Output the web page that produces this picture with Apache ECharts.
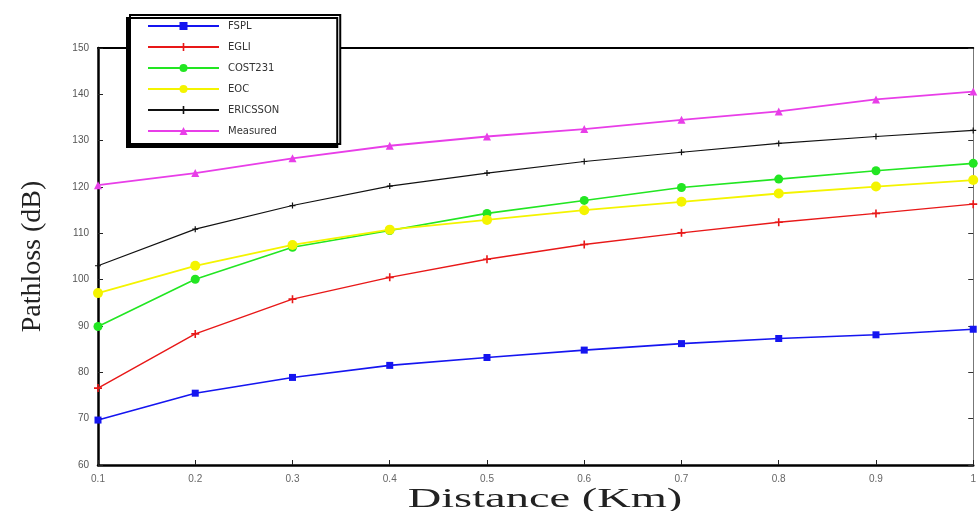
<!DOCTYPE html>
<html>
<head>
<meta charset="utf-8">
<script src="https://cdn.jsdelivr.net/npm/echarts@6/dist/echarts.min.js"></script>
<style>
html,body{margin:0;padding:0;background:#fff;}
#chart{width:979px;height:511px;}
</style>
</head>
<body>
<div id="chart"></div>
<script>
const categories = ['0.1','0.2','0.3','0.4','0.5','0.6','0.7','0.8','0.9','1'];
const fspl     = [69.7, 75.5, 78.9, 81.5, 83.2, 84.8, 86.2, 87.3, 88.1, 89.3];
const egli     = [76.6, 88.3, 95.8, 100.5, 104.4, 107.6, 110.1, 112.4, 114.3, 116.3];
const cost231  = [89.9, 100.1, 107.0, 110.6, 114.3, 117.1, 119.9, 121.7, 123.5, 125.1];
const eoc      = [97.1, 103.0, 107.5, 110.8, 112.9, 115.0, 116.8, 118.6, 120.1, 121.5];
const ericsson = [103.0, 110.9, 116.0, 120.2, 123.0, 125.5, 127.5, 129.4, 130.9, 132.2];
const measured = [120.4, 123.0, 126.2, 128.9, 130.9, 132.5, 134.5, 136.3, 138.9, 140.6];
const seriesNames = ['FSPL','EGLI','COST231','EOC','ERICSSON','Measured'];
const yTicks = [60,70,80,90,100,110,120,130,140,150];

const plusPath = 'path://M4,0H6V4H10V6H6V10H4V6H0V4H4Z';

function mk(name, data, color, symbol, size, width) {
  return {
    name: name, type: 'line', data: data,
    symbol: symbol, symbolSize: size, showSymbol: true,
    lineStyle: {color: color, width: width},
    itemStyle: {color: color},
    animation: false
  };
}

const chart = echarts.init(document.getElementById('chart'));
chart.setOption({
  backgroundColor: '#fff',
  animation: false,
  grid: {left: 98, right: 2, top: 48, bottom: 46, containLabel: false},
  legend: {
    data: seriesNames,
    orient: 'vertical',
    left: 130, top: 15,
    padding: [6, 61, 8, 17],
    itemWidth: 71, itemHeight: 10, itemGap: 11,
    backgroundColor: '#fff',
    borderColor: '#000', borderWidth: 2,
    shadowColor: '#000', shadowBlur: 0, shadowOffsetX: -3, shadowOffsetY: 3,
    textStyle: {fontFamily: 'DejaVu Sans', fontSize: 10, color: '#333', padding: [0,0,0,4]}
  },
  xAxis: [{
    type: 'category', data: categories, boundaryGap: false,
    axisLine: {lineStyle: {color: '#000', width: 2.5}},
    axisTick: {inside: true, length: 5, lineStyle: {color: '#222'}},
    axisLabel: {fontFamily: 'Liberation Sans', fontSize: 10, color: '#666', margin: 9, showMaxLabel: true},
    splitLine: {show: false}
  }, {
    type: 'category', data: categories, boundaryGap: false, position: 'top',
    axisLine: {lineStyle: {color: '#000', width: 2}},
    axisTick: {show: false}, axisLabel: {show: false}, splitLine: {show: false}
  }],
  yAxis: [{
    type: 'value', min: 60, max: 150, interval: 10,
    name: 'Pathloss (dB)', nameLocation: 'middle', nameGap: 51,
    nameTextStyle: {fontFamily: 'Liberation Serif', fontSize: 28, color: '#222'},
    axisLine: {show: true, lineStyle: {color: '#000', width: 2.5}},
    axisTick: {show: true, inside: true, length: 5, lineStyle: {color: '#222'}},
    axisLabel: {fontFamily: 'Liberation Sans', fontSize: 10, color: '#555', margin: 9,
      formatter: function(v){ return yTicks.indexOf(v) >= 0 ? String(v) : ''; }},
    splitLine: {show: false}
  }, {
    type: 'value', min: 60, max: 150, interval: 10, position: 'right',
    axisLine: {show: true, lineStyle: {color: '#777', width: 1}},
    axisTick: {show: true, inside: true, length: 5, lineStyle: {color: '#333'}},
    axisLabel: {show: false}, splitLine: {show: false}
  }],
  graphic: [{
    type: 'text', x: 545, y: 486, scaleX: 1.72, scaleY: 1,
    style: {text: 'Distance (Km)', font: '27px "Liberation Serif"', fill: '#222',
      textAlign: 'center', textVerticalAlign: 'top'}
  }],
  series: [
    mk('FSPL', fspl, '#1515f0', 'rect', 7, 1.6),
    mk('EGLI', egli, '#e81818', plusPath, 8, 1.4),
    mk('COST231', cost231, '#22e622', 'circle', 9, 1.6),
    mk('EOC', eoc, '#f4f400', 'circle', 10, 1.8),
    mk('ERICSSON', ericsson, '#111111', plusPath, 6, 1.2),
    mk('Measured', measured, '#e83ee8', 'triangle', 8, 1.8)
  ]
});
</script>
</body>
</html>
